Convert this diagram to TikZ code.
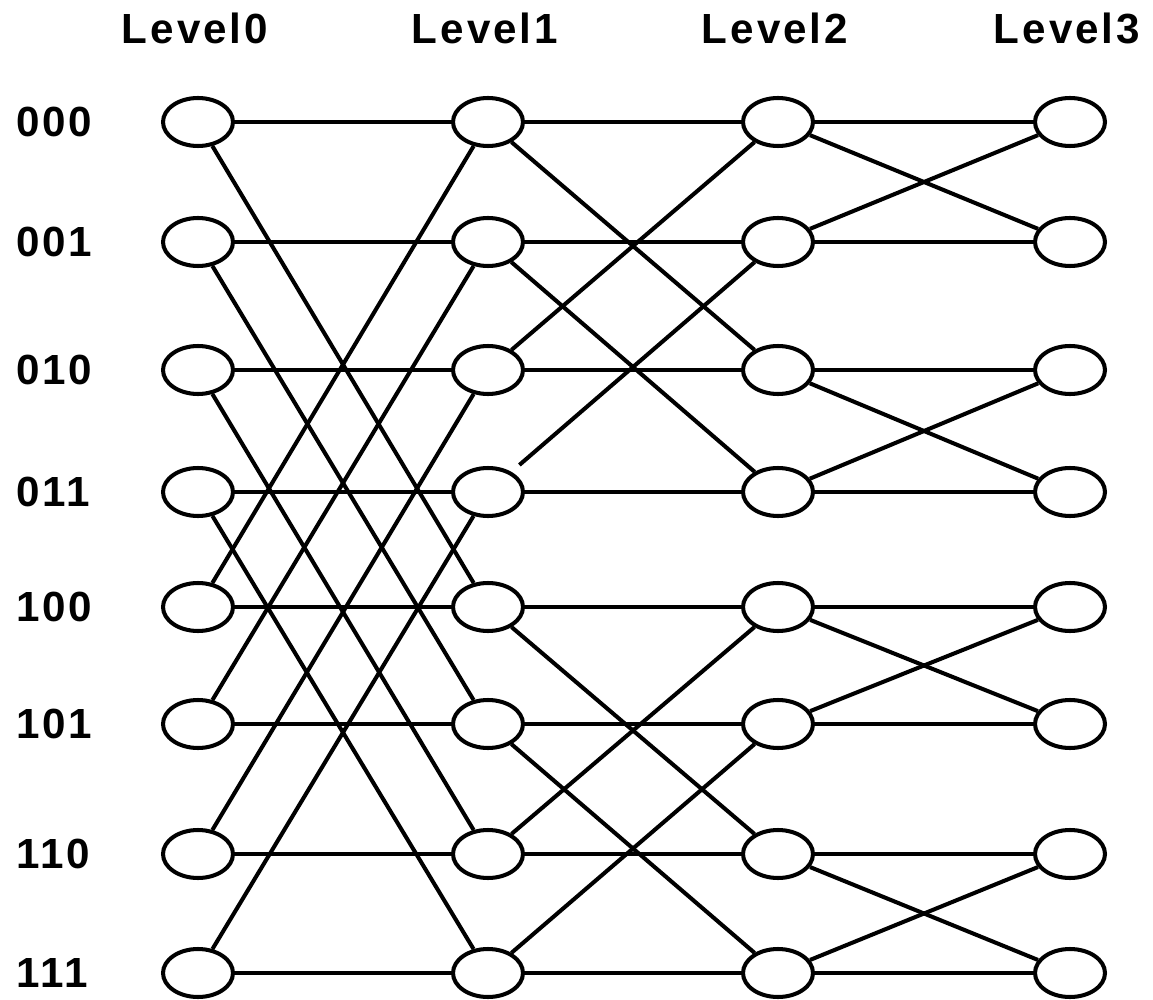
\documentclass[tikz,border=0pt]{standalone}
\usepackage{fontspec}
\setmainfont{Liberation Sans}
\newfontfamily\lblfont[LetterSpace=7]{Liberation Sans}
\usetikzlibrary{shapes.geometric}

\begin{document}
\begin{tikzpicture}[x=0.02cm, y=-0.02cm, line width=2.3pt,
    vtx/.style={draw, ellipse, minimum width=1.4cm, minimum height=0.96cm, inner sep=0pt},
    lbl/.style={font=\lblfont\fontsize{24}{26}\selectfont\bfseries, inner sep=0pt}]
    \useasboundingbox (0,0) rectangle (1153,1000);

    % nodes of the four levels
    \foreach \c/\x in {0/198,1/488,2/778,3/1070} {
        \node[lbl] (head\c) at (\x-3,28) {Level\c};
        \foreach \r/\y in {0/122,1/242,2/370,3/492,4/607,5/724,6/854,7/973}
            \node[vtx] (v\c\r) at (\x,\y) {};
    }
    \foreach \r/\t in {0/000,1/001,2/010,3/011,4/100,5/101,6/110,7/111}
        \node[lbl, anchor=west] (addr\r) at (14,0|-v0\r) {\t};

    % straight links
    \foreach \r in {0,...,7} {
        \draw (v0\r) -- (v1\r);
        \draw (v1\r) -- (v2\r);
        \draw (v2\r) -- (v3\r);
    }

    % cross links
    \foreach \a/\b in {0/4,1/5,2/6,3/7,4/0,5/1,6/2,7/3}
        \draw (v0\a) -- (v1\b);
    \foreach \a/\b in {0/2,1/3,2/0,4/6,5/7,6/4,7/5}
        \draw (v1\a) -- (v2\b);
    \draw[shorten <=6pt] (v13) -- (v21);
    \foreach \a/\b in {0/1,1/0,2/3,3/2,4/5,5/4,6/7,7/6}
        \draw (v2\a) -- (v3\b);
\end{tikzpicture}
\end{document}
